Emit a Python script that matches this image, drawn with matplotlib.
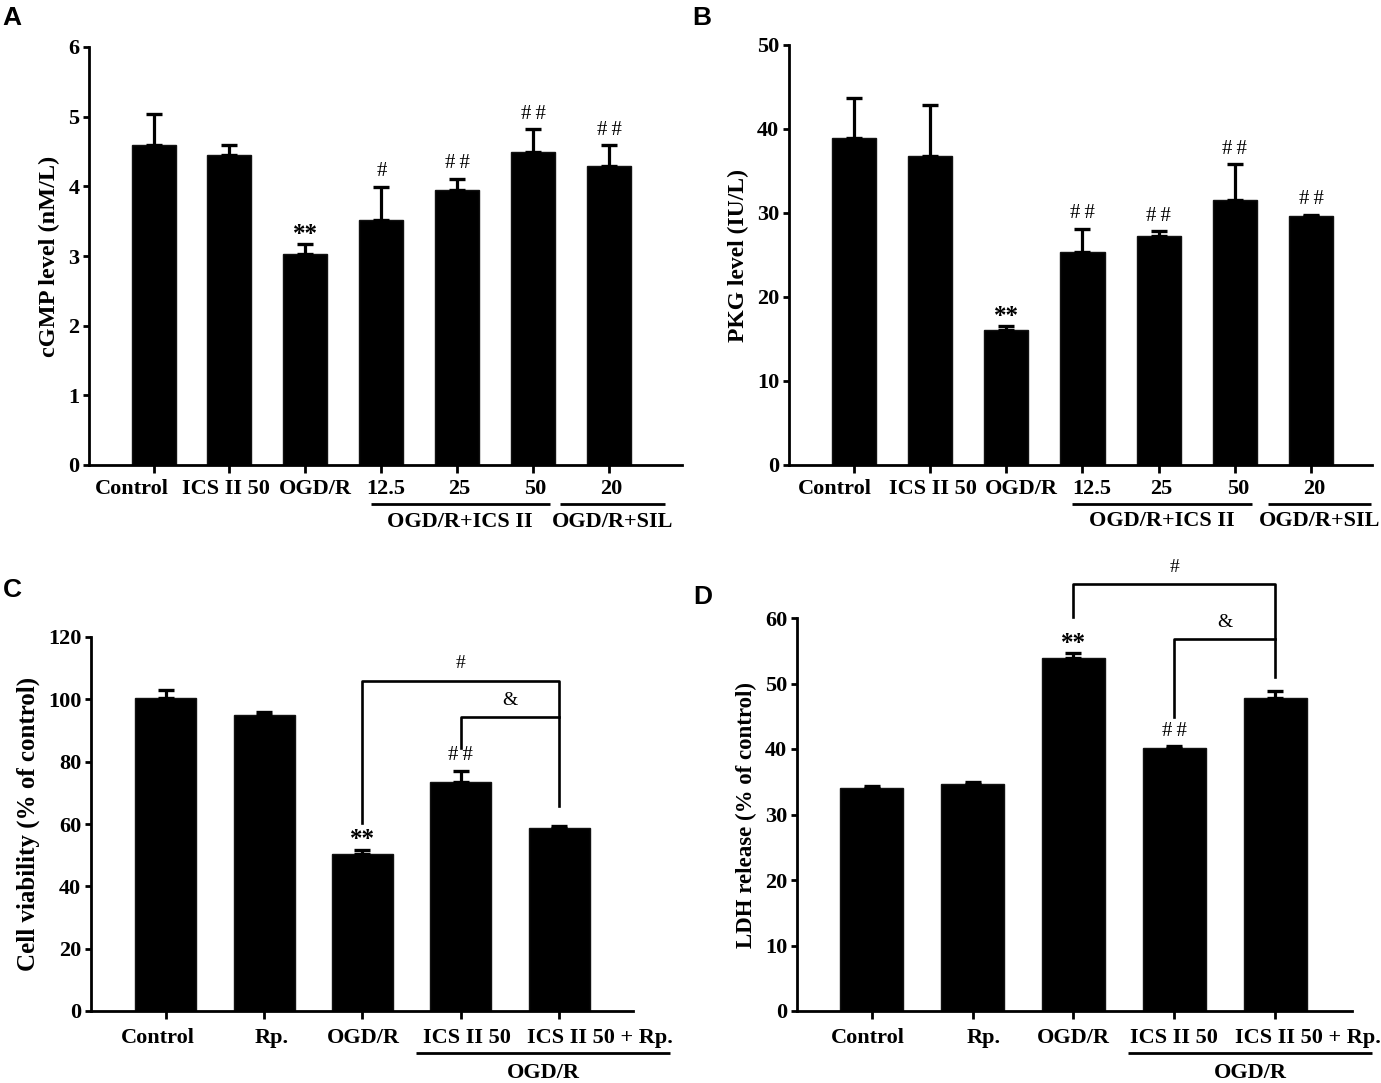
import matplotlib
matplotlib.use('Agg')
import matplotlib.pyplot as plt
import matplotlib.transforms as mtrans

# ---------------- data ----------------
a_labels = ['Control', 'ICS II 50', 'OGD/R', '12.5', '25', '50', '20']
a_means = [4.59, 4.45, 3.03, 3.51, 3.95, 4.49, 4.29]
a_err = [0.45, 0.14, 0.14, 0.48, 0.16, 0.33, 0.30]
a_marks = ['', '', '**', '#', '##', '##', '##']

b_labels = ['Control', 'ICS II 50', 'OGD/R', '12.5', '25', '50', '20']
b_means = [38.9, 36.8, 16.1, 25.3, 27.3, 31.6, 29.7]
b_err = [4.8, 6.0, 0.4, 2.8, 0.5, 4.2, 0.1]
b_marks = ['', '', '**', '##', '##', '##', '##']

c_labels = ['Control', 'Rp.', 'OGD/R', 'ICS II 50', 'ICS II 50 + Rp.']
c_means = [100.3, 95.1, 50.5, 73.6, 58.6]
c_err = [2.8, 0.9, 1.3, 3.4, 0.6]
c_marks = ['', '', '**', '##', '']

d_labels = ['Control', 'Rp.', 'OGD/R', 'ICS II 50', 'ICS II 50 + Rp.']
d_means = [34.1, 34.6, 53.9, 40.1, 47.8]
d_err = [0.3, 0.3, 0.7, 0.3, 1.1]
d_marks = ['', '', '**', '##', '']

# comparison brackets: (left bar, right bar, top level, left leg end, right leg end, symbol)
c_brackets = [(2, 4, 106.0, 60.4, 65.8, '#'), (3, 4, 94.3, 84.4, 94.3, '&')]
d_brackets = [(2, 4, 65.2, 60.2, 51.0, '#'), (3, 4, 56.8, 44.9, 56.8, '&')]

W, H = 1381, 1083
fig = plt.figure(figsize=(W / 100, H / 100), dpi=100)
fig.patch.set_facecolor('white')

SERIF = ['Liberation Serif', 'DejaVu Serif']
SANS = ['Liberation Sans', 'DejaVu Sans']


def add_ax(l, r, t, b):
    return fig.add_axes([l / W, (H - b) / H, (r - l) / W, (b - t) / H])


def panel(ax, labels, means, errs, marks, ylim, yticks, ylabel, ylsize,
          xlim, width, label_dx, label_dy):
    x = list(range(len(means)))
    ax.bar(x, means, width=width, color='black', edgecolor='#111111',
           linewidth=1.0, zorder=2)
    ax.errorbar(x, means, yerr=[[0] * len(errs), errs], fmt='none',
                ecolor='black', elinewidth=2.3, capsize=6.0, capthick=2.4,
                zorder=3)
    ax.set_xlim(*xlim)
    ax.set_ylim(*ylim)
    ax.set_yticks(yticks)
    ax.set_yticklabels([str(v) for v in yticks], family=SERIF,
                       fontweight='bold', fontsize=16)
    ax.set_xticks(x)
    ax.set_xticklabels([])
    base = mtrans.blended_transform_factory(ax.transData, ax.transAxes)
    for xi, lab, dx in zip(x, labels, label_dx):
        tr = base + mtrans.ScaledTranslation(dx / 100, -label_dy / 100,
                                             fig.dpi_scale_trans)
        ax.text(xi, 0, lab, transform=tr, ha='center', va='top',
                family=SERIF, fontweight='bold', fontsize=16, clip_on=False)
    ax.set_ylabel(ylabel, family=SERIF, fontweight='bold', fontsize=ylsize,
                  labelpad=6)
    for s in ['top', 'right']:
        ax.spines[s].set_visible(False)
    for s in ['left', 'bottom']:
        ax.spines[s].set_linewidth(2.0)
    ax.tick_params(axis='x', direction='out', length=5.5, width=2.0, pad=4)
    ax.tick_params(axis='y', direction='out', length=4.0, width=2.0, pad=3)
    for xi, m, e, s in zip(x, means, errs, marks):
        if not s:
            continue
        if s.startswith('*'):
            ax.annotate(s, (xi, m + e), xytext=(0, -1),
                        textcoords='offset points', ha='center', va='bottom',
                        family=SERIF, fontweight='bold', fontsize=18)
        else:
            txt = '#\u2009#' if s == '##' else s
            ax.annotate(txt, (xi, m + e), xytext=(0, 4),
                        textcoords='offset points', ha='center', va='bottom',
                        family=SERIF, fontsize=15)


def group_line(ax, x0, x1, ly, ty, text):
    tr = mtrans.blended_transform_factory(ax.transData, ax.transAxes)
    ax.plot([x0, x1], [ly, ly], color='black', lw=2.0, transform=tr,
            clip_on=False, solid_capstyle='butt')
    ax.text((x0 + x1) / 2, ty, text, transform=tr, ha='center', va='center',
            family=SERIF, fontweight='bold', fontsize=16)


def brackets(ax, br):
    for x0, x1, top, l_end, r_end, sym in br:
        ax.plot([x0, x0, x1, x1], [l_end, top, top, r_end], color='black',
                lw=1.9, clip_on=False, zorder=4)
        ax.annotate(sym, ((x0 + x1) / 2, top), xytext=(0, 6),
                    textcoords='offset points', ha='center', va='bottom',
                    family=SERIF, fontsize=14, annotation_clip=False)


# ---------------- Panel A ----------------
axA = add_ax(89, 682, 47, 465)
panel(axA, a_labels, a_means, a_err, a_marks, (0, 6), list(range(0, 7)),
      'cGMP level (nM/L)', 17.5, (-0.85, 6.96), 0.58,
      [-22, -4, 10, 4, 2, 2, 2], 14.5)
group_line(axA, 2.86, 5.22, -0.094, -0.136, 'OGD/R+ICS II')
group_line(axA, 5.35, 6.74, -0.094, -0.136, 'OGD/R+SIL')

# ---------------- Panel B ----------------
axB = add_ax(789, 1372, 45, 465)
panel(axB, b_labels, b_means, b_err, b_marks, (0, 50), list(range(0, 51, 10)),
      'PKG level (IU/L)', 17, (-0.85, 6.8), 0.58,
      [-19, 3, 15, 9, 3, 3, 3], 14.5)
group_line(axB, 2.86, 5.23, -0.092, -0.133, 'OGD/R+ICS II')
group_line(axB, 5.43, 6.79, -0.092, -0.133, 'OGD/R+SIL')

# ---------------- Panel C ----------------
axC = add_ax(91, 633, 637, 1011)
panel(axC, c_labels, c_means, c_err, c_marks, (0, 120),
      list(range(0, 121, 20)), 'Cell viability (% of control)', 18,
      (-0.76, 4.75), 0.62, [-8, 8, 1, 6, 41], 17)
group_line(axC, 2.54, 5.13, -0.112, -0.166, 'OGD/R')
brackets(axC, c_brackets)

# ---------------- Panel D ----------------
axD = add_ax(797, 1352, 618, 1011)
panel(axD, d_labels, d_means, d_err, d_marks, (0, 60),
      list(range(0, 61, 10)), 'LDH release (% of control)', 16.5,
      (-0.74, 4.76), 0.63, [-4, 11, 0, 0, 33], 17)
group_line(axD, 2.54, 4.96, -0.107, -0.158, 'OGD/R')
brackets(axD, d_brackets)

# panel letters
for letter, px, py in [('A', 12, 18), ('B', 702, 18), ('C', 12, 590),
                       ('D', 703, 597)]:
    fig.text(px / W, 1 - py / H, letter, ha='center', va='center',
             family=SANS, fontweight='bold', fontsize=19)

fig.savefig('out.png', dpi=100, facecolor='white')
